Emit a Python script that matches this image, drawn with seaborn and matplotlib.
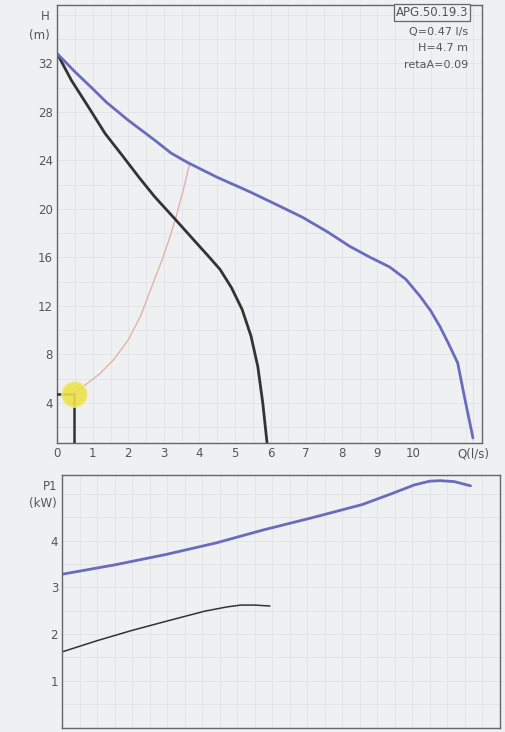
import matplotlib
matplotlib.use("Agg")
import matplotlib.pyplot as plt
import seaborn as sns
import pandas as pd

# H-Q curves
q_max = [0, 0.5, 1.0, 1.38, 2.0, 2.77, 3.2, 3.68, 4.5, 5.42, 6.2, 6.9, 7.6, 8.23,
         8.8, 9.35, 9.8, 10.2, 10.5, 10.76, 11.0, 11.26, 11.45, 11.69]
h_max = [32.8, 31.3, 29.9, 28.8, 27.3, 25.6, 24.6, 23.8, 22.6, 21.4, 20.3, 19.3, 18.1, 16.9,
         16.0, 15.2, 14.2, 12.8, 11.6, 10.3, 8.9, 7.3, 4.5, 1.1]

q_min = [0, 0.4, 0.9, 1.35, 1.83, 2.3, 2.74, 3.3, 3.85, 4.25, 4.58, 4.9, 5.2, 5.45,
         5.64, 5.78, 5.9]
h_min = [32.8, 30.6, 28.3, 26.2, 24.4, 22.6, 21.0, 19.2, 17.4, 16.1, 15.0, 13.5, 11.7, 9.5,
         7.0, 4.0, 0.7]

q_sys = [0.47, 0.8, 1.2, 1.6, 2.0, 2.35, 2.7, 2.95, 3.15, 3.35, 3.55, 3.73]
h_sys = [4.7, 5.5, 6.4, 7.6, 9.2, 11.2, 13.9, 15.8, 17.5, 19.4, 21.6, 23.8]

# P1-Q curves
q_pmax = [0, 1.5, 2.95, 4.4, 5.76, 7.2, 8.57, 9.4, 10.06, 10.5, 10.8, 11.2, 11.66]
p_pmax = [3.28, 3.48, 3.70, 3.95, 4.23, 4.5, 4.77, 5.0, 5.19, 5.27, 5.28, 5.26, 5.17]

q_pmin = [0, 1.0, 2.0, 3.0, 4.07, 4.7, 5.1, 5.5, 5.93]
p_pmin = [1.62, 1.86, 2.08, 2.28, 2.49, 2.58, 2.62, 2.62, 2.6]

op_q, op_h = 0.47, 4.7
info = ["Q=0.47 l/s", "H=4.7 m", "retaA=0.09"]
model = "APG.50.19.3"

bg = "#eef0f2"
blue = "#6b6bbd"
dark = "#333333"
pink = "#e2b2ae"
grid_c = "#e0e3e8"

sns.set_style("white")
plt.rcParams["font.family"] = ["DejaVu Sans"]

fig = plt.figure(figsize=(5.06, 7.32), dpi=100)
fig.patch.set_facecolor(bg)
ax1 = fig.add_axes([0.113, 0.395, 0.84, 0.598])
ax2 = fig.add_axes([0.123, 0.006, 0.865, 0.345])

for ax in (ax1, ax2):
    ax.set_facecolor(bg)
    for s in ax.spines.values():
        s.set_color("#666666")
        s.set_linewidth(1.0)
    ax.tick_params(length=0, labelsize=8.5, colors="#555555", pad=3)
    ax.grid(True, which="both", color=grid_c, linewidth=0.6)

# top: H-Q
sns.lineplot(x=q_sys, y=h_sys, ax=ax1, color=pink, linewidth=1.0, sort=False)
sns.lineplot(x=q_min, y=h_min, ax=ax1, color=dark, linewidth=2.0, sort=False)
sns.lineplot(x=q_max, y=h_max, ax=ax1, color=blue, linewidth=2.0, sort=False)
ax1.plot([op_q, op_q], [0.7, op_h], color=dark, linewidth=1.8, zorder=3)
ax1.plot([0, op_q], [op_h, op_h], color=dark, linewidth=1.8, zorder=3)
ax1.scatter([op_q], [op_h], s=330, color="#ece24c", alpha=0.9, zorder=5,
            edgecolor="#f2ec90", linewidth=1.0)

ax1.set_xlim(0, 11.95)
ax1.set_ylim(0.7, 36.8)
ax1.set_yticks(range(4, 33, 4))
ax1.set_xticks(list(range(0, 11)) + [11.7])
ax1.set_xticklabels([str(i) for i in range(0, 11)] + ["Q(l/s)"])
ax1.set_xticks([i + 0.5 for i in range(12)], minor=True)
ax1.set_yticks(range(2, 37, 2), minor=True)
ax1.set_xlabel("")
ax1.set_ylabel("")
ax1.text(-0.2, 35.9, "H", ha="right", va="center", fontsize=8.5, color="#555555")
ax1.text(-0.2, 34.3, "(m)", ha="right", va="center", fontsize=8.5, color="#555555")

ax1.text(11.55, 36.2, model, ha="right", va="center", fontsize=8.5, color="#555555",
         bbox=dict(boxstyle="square,pad=0.15", facecolor=bg, edgecolor="#666666", linewidth=0.9))
for i, t in enumerate(info):
    ax1.text(11.55, 34.6 - i * 1.35, t, ha="right", va="center", fontsize=8, color="#555555")

# bottom: P1-Q
sns.lineplot(x=q_pmin, y=p_pmin, ax=ax2, color=dark, linewidth=1.1, sort=False)
sns.lineplot(x=q_pmax, y=p_pmax, ax=ax2, color=blue, linewidth=2.0, sort=False)
ax2.set_xlim(0, 12.3)
ax2.set_ylim(0, 5.4)
ax2.set_yticks([1, 2, 3, 4])
ax2.set_xticks(range(0, 13))
ax2.set_xticklabels([])
ax2.set_xticks([i + 0.5 for i in range(13)], minor=True)
ax2.set_yticks([i * 0.5 for i in range(11)], minor=True)
ax2.set_xlabel("")
ax2.set_ylabel("")
ax2.text(-0.15, 5.15, "P1", ha="right", va="center", fontsize=8.5, color="#555555")
ax2.text(-0.15, 4.8, "(kW)", ha="right", va="center", fontsize=8.5, color="#555555")

fig.savefig("out.png", dpi=100, facecolor=bg)
